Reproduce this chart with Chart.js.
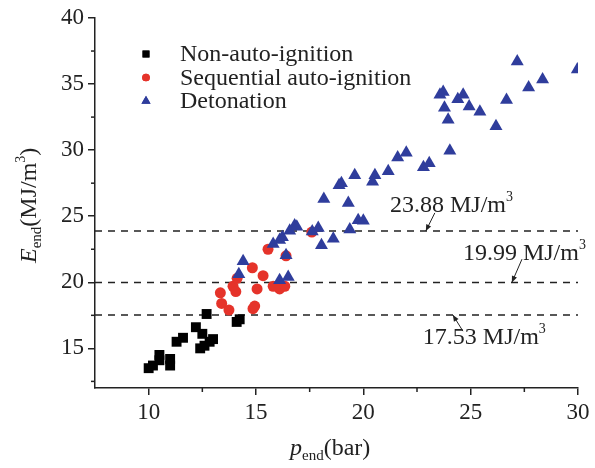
<!DOCTYPE html>
<html>
<head>
<meta charset="utf-8">
<script src="https://cdn.jsdelivr.net/npm/chart.js@4.4.0/dist/chart.umd.min.js"></script>
<style>
  html, body { margin: 0; padding: 0; background: #fff; }
</style>
</head>
<body>
<canvas id="chart" width="595" height="468"></canvas>
<script>
// data
const nonAutoX = [10.0, 10.2, 10.5, 10.5, 11.0, 11.0, 11.3, 11.6, 12.2, 12.5, 12.4, 12.6, 12.84, 13.0, 12.7, 14.1, 14.24];
const nonAutoY = [13.5, 13.7, 14.5, 14.1, 14.2, 13.7, 15.5, 15.8, 16.6, 16.1, 15.0, 15.2, 15.5, 15.7, 17.6, 17.0, 17.2];

const seqX = [13.34, 13.4, 13.74, 14.86, 14.94, 13.93, 14.06, 14.12, 14.83, 15.33, 15.05, 15.8, 16.1, 16.34, 15.56, 16.4, 17.6];
const seqY = [19.2, 18.4, 17.9, 18.0, 18.2, 19.7, 19.3, 20.3, 21.1, 20.5, 19.5, 19.7, 19.5, 19.7, 22.5, 22.0, 23.8];

const detX = [14.4, 14.2, 16.1, 16.5, 16.4, 15.8, 16.1, 16.23, 16.57, 16.8, 16.9, 17.62, 17.9, 18.05, 18.6, 19.37, 19.76, 20.0,
  18.16, 19.3, 18.87, 18.98, 19.6, 20.43, 20.54, 21.16, 21.6, 22.0, 22.8, 23.07, 24.03, 23.95, 23.78, 23.57, 23.72,
  24.4, 24.65, 24.93, 25.43, 26.18, 26.67, 27.7, 28.35, 27.17, 29.97];
const detY = [21.6, 20.6, 20.15, 20.4, 22.05, 22.9, 23.2, 23.4, 23.9, 24.3, 24.2, 23.85, 24.1, 22.8, 23.3, 24.0, 24.7, 24.65,
  26.3, 26.0, 27.35, 27.5, 28.1, 27.6, 28.1, 28.4, 29.45, 29.8, 28.7, 29.0, 29.95, 32.3, 33.2, 34.2, 34.4,
  33.85, 34.2, 33.3, 32.9, 31.8, 33.8, 34.75, 35.35, 36.7, 36.1];

const seriesNames = ['Non-auto-ignition', 'Sequential auto-ignition', 'Detonation'];
const thresholds = [23.88, 19.99, 17.53];

const xTicks = [10, 15, 20, 25, 30];
const yTicks = [15, 20, 25, 30, 35, 40];
const xMinor = [12.5, 17.5, 22.5, 27.5];
const yMinor = [12.5, 17.5, 22.5, 27.5, 32.5, 37.5];

// label anchors in data units: text start, arrow tail, arrow tip
const notes = [
  { value: 23.88, tx: 21.24, ty: 25.3, ax: 23.33, ay: 25.25, bx: 22.91, by: 23.88 },
  { value: 19.99, tx: 24.64, ty: 21.67, ax: 27.39, ay: 21.75, bx: 26.92, by: 19.99 },
  { value: 17.53, tx: 22.77, ty: 15.3, ax: 24.64, ay: 16.3, bx: 24.17, by: 17.53 }
];

const serif = '"Liberation Serif", "DejaVu Serif", serif';
const ink = '#222';

function pairs(xs, ys) {
  return xs.map((x, i) => ({ x: x, y: ys[i] }));
}

const datasets = [
  { label: seriesNames[0], data: pairs(nonAutoX, nonAutoY), pointStyle: 'rect', pointRadius: 7,
    backgroundColor: '#000', borderColor: '#000', borderWidth: 0, order: 3 },
  { label: seriesNames[1], data: pairs(seqX, seqY), pointStyle: 'circle', pointRadius: 5.5,
    backgroundColor: '#e5332a', borderColor: '#e5332a', borderWidth: 0, order: 2 },
  { label: seriesNames[2], data: pairs(detX, detY), pointStyle: 'triangle', pointRadius: 7.5,
    backgroundColor: '#2f3d9c', borderColor: '#2f3d9c', borderWidth: 0, order: 1 }
];

thresholds.forEach(v => {
  datasets.push({
    label: 'th' + v, data: [{ x: 7.5, y: v }, { x: 30, y: v }], showLine: true, pointRadius: 0,
    borderColor: '#222', borderWidth: 1.5, borderDash: [7, 6], order: 4
  });
});

function richText(ctx, x, y, parts) {
  let cx = x;
  parts.forEach(p => {
    ctx.font = (p.italic ? 'italic ' : '') + p.size + 'px ' + serif;
    ctx.fillText(p.t, cx, y + (p.dy || 0));
    cx += ctx.measureText(p.t).width;
  });
  return cx - x;
}

const extras = {
  id: 'extras',
  afterDraw(chart) {
    const ctx = chart.ctx;
    const xs = chart.scales.x, ys = chart.scales.y;
    const area = chart.chartArea;
    ctx.save();
    ctx.strokeStyle = ink;
    ctx.fillStyle = ink;
    ctx.lineWidth = 1.5;

    // minor ticks
    xMinor.forEach(v => {
      const px = xs.getPixelForValue(v);
      ctx.beginPath(); ctx.moveTo(px, area.bottom); ctx.lineTo(px, area.bottom + 4); ctx.stroke();
    });
    yMinor.forEach(v => {
      const py = ys.getPixelForValue(v);
      ctx.beginPath(); ctx.moveTo(area.left, py); ctx.lineTo(area.left - 4, py); ctx.stroke();
    });

    // legend
    ctx.textBaseline = 'middle';
    ctx.textAlign = 'left';
    for (let i = 0; i < 3; i++) {
      const ds = chart.data.datasets[i];
      const ly = 54 + i * 23.5;
      ctx.fillStyle = ds.backgroundColor;
      Chart.helpers.drawPoint(ctx, { pointStyle: ds.pointStyle, radius: ds.pointRadius * 0.7, borderWidth: 0 }, 146, ly);
      ctx.fill();
      ctx.fillStyle = ink;
      ctx.font = '24px ' + serif;
      ctx.fillText(ds.label, 180, ly + 1);
    }

    // threshold labels and arrows
    ctx.textBaseline = 'alphabetic';
    notes.forEach(n => {
      const tx = xs.getPixelForValue(n.tx), ty = ys.getPixelForValue(n.ty);
      ctx.fillStyle = ink;
      richText(ctx, tx, ty, [
        { t: n.value.toFixed(2) + ' MJ/m', size: 24 },
        { t: '3', size: 14, dy: -11 }
      ]);
      const ax = xs.getPixelForValue(n.ax), ay = ys.getPixelForValue(n.ay);
      const bx = xs.getPixelForValue(n.bx), by = ys.getPixelForValue(n.by);
      const ang = Math.atan2(by - ay, bx - ax);
      ctx.lineWidth = 1;
      ctx.beginPath(); ctx.moveTo(ax, ay); ctx.lineTo(bx, by); ctx.stroke();
      ctx.beginPath();
      ctx.moveTo(bx, by);
      ctx.lineTo(bx - 7 * Math.cos(ang - 0.4), by - 7 * Math.sin(ang - 0.4));
      ctx.lineTo(bx - 7 * Math.cos(ang + 0.4), by - 7 * Math.sin(ang + 0.4));
      ctx.closePath();
      ctx.fill();
    });

    // axis titles
    ctx.fillStyle = ink;
    ctx.textAlign = 'left';
    richText(ctx, 290, 455, [
      { t: 'p', size: 24, italic: true },
      { t: 'end', size: 15, dy: 5 },
      { t: '(bar)', size: 24 }
    ]);
    ctx.translate(36, 263);
    ctx.rotate(-Math.PI / 2);
    richText(ctx, 0, 0, [
      { t: 'E', size: 24, italic: true },
      { t: 'end', size: 15, dy: 5 },
      { t: '(MJ/m', size: 24 },
      { t: '3', size: 14, dy: -11 },
      { t: ')', size: 24 }
    ]);
    ctx.restore();
  }
};

function axis(min, max, ticks, fit) {
  return {
    type: 'linear',
    min: min,
    max: max,
    afterBuildTicks: s => { s.ticks = ticks.map(v => ({ value: v })); },
    afterFit: fit,
    ticks: { color: ink, font: { family: serif, size: 23 }, padding: 4 },
    grid: { display: true, drawOnChartArea: false, drawTicks: true, tickLength: 7, color: ink, lineWidth: 1.5 },
    border: { display: true, color: ink, width: 1.5 }
  };
}

new Chart(document.getElementById('chart'), {
  type: 'scatter',
  data: { datasets: datasets },
  options: {
    responsive: false,
    animation: false,
    layout: { padding: { top: 18, right: 17, left: 0, bottom: 0 } },
    plugins: { legend: { display: false }, tooltip: { enabled: false } },
    scales: {
      x: axis(7.5, 30, xTicks, s => { s.height = 80; }),
      y: axis(12, 40, yTicks, s => { s.width = 95; })
    }
  },
  plugins: [extras]
});
</script>
</body>
</html>
